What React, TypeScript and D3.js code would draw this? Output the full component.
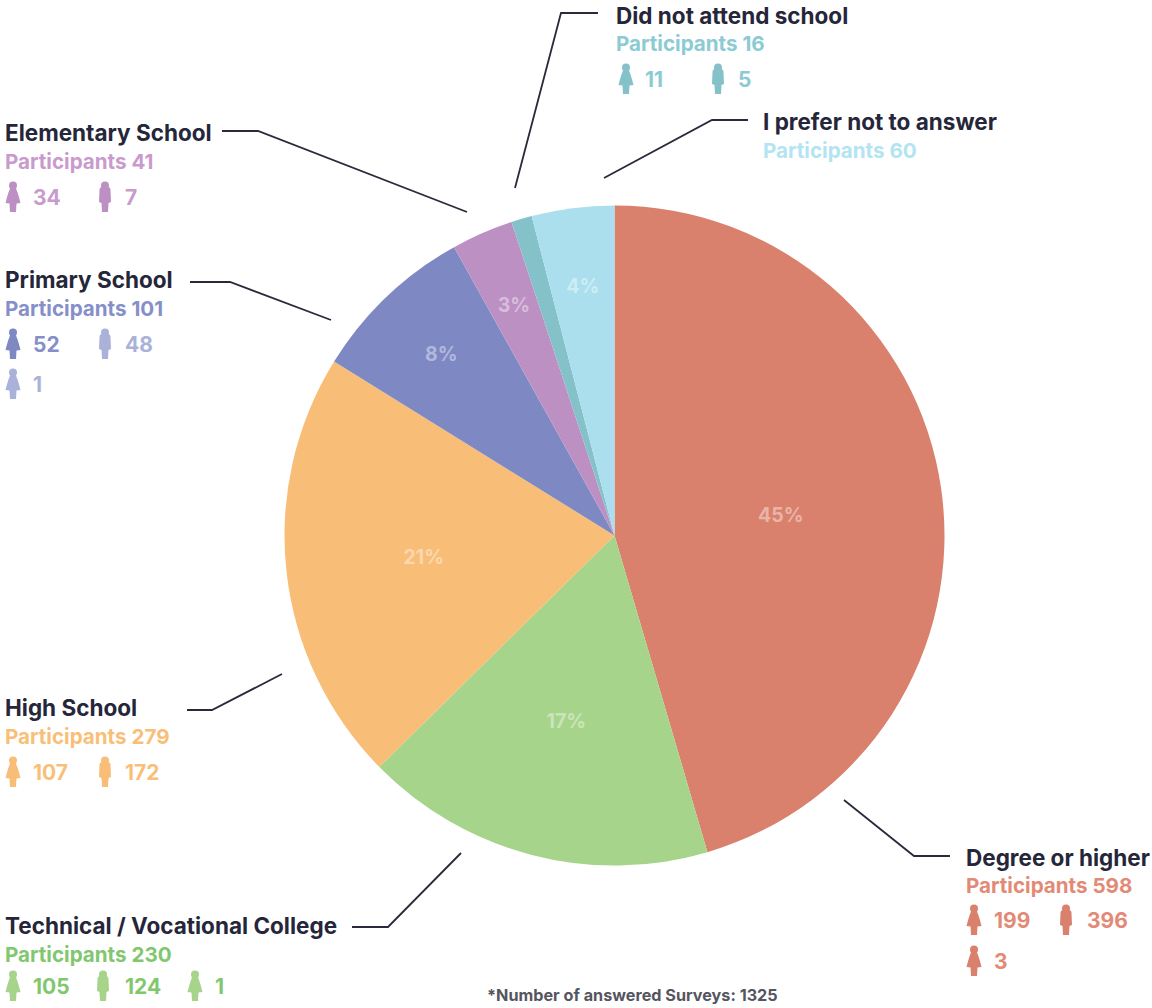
import React from "react";
import * as d3 from "d3";

// Survey responses by highest level of education.
const levels = [
  "Degree or higher",
  "Technical / Vocational College",
  "High School",
  "Primary School",
  "Elementary School",
  "Did not attend school",
  "I prefer not to answer",
];
const participants = [598, 230, 279, 101, 41, 16, 60];
// Rounded shares that set the slice sizes.
const percents = [45, 17, 21, 8, 3, 1, 4];
const sliceColors = ["#d9816d", "#a6d48b", "#f8be78", "#7e89c4", "#bd90c4", "#85c1c9", "#abdfee"];
const textColors = ["#e28a76", "#80c76e", "#f9bf79", "#858fc9", "#c99bcd", "#8ccbd3", "#b2e4f1"];
const surveyTotal = 1325;

// Head counts per figure: [kind, count, faded]
type Figure = [string, number, boolean];
const figures: Figure[][] = [
  [["f", 199, false], ["m", 396, false], ["o", 3, false]],
  [["f", 105, false], ["m", 124, false], ["o", 1, false]],
  [["f", 107, false], ["m", 172, false]],
  [["f", 52, false], ["m", 48, true], ["o", 1, true]],
  [["f", 34, false], ["m", 7, false]],
  [["f", 11, false], ["m", 5, false]],
  [],
];

// Legend block layout for each level.
const blockX = [966, 5, 5, 5, 5, 616, 763];
const titleY = [866, 934, 716, 288, 141, 24, 130];
const partY = [893, 962, 744, 316, 169, 51, 158];
const rowY = [[920, 920, 961], [986, 986, 986], [772, 772], [344, 344, 384], [197, 197], [79, 79], []];
const iconX = [[974, 1066, 974], [13, 103, 195], [13, 105], [13, 105, 13], [13, 105], [626, 718], []];
const numX = [[994, 1087, 994], [33, 125, 215], [33, 125], [33, 125, 33], [33, 125], [645, 738], []];

// Leader lines from each label to its slice.
const leaders: [number, number][][] = [
  [[844, 800], [914, 856], [950, 856]],
  [[352, 927], [388, 927], [461, 853]],
  [[187, 710], [212, 710], [282, 674]],
  [[190, 282], [230, 282], [331, 320]],
  [[222, 131], [258, 131], [467, 212]],
  [[598, 13], [561, 13], [515, 188]],
  [[748, 120], [712, 120], [604, 178]],
];

const FONT = "Inter, Lato, sans-serif";
const cx = 614.5;
const cy = 535.5;
const radius = 330;

function Person({ kind, x, y, color }: { kind: string; x: number; y: number; color: string }) {
  // Drawn around the icon's centre, about 14 wide and 30 tall.
  const body =
    kind === "m"
      ? "M-5.5,-7 Q-5.5,-10 -2.5,-10 L2.5,-10 Q5.5,-10 5.5,-7 L6,5 L3.5,6 L3,15 L-3,15 L-3.5,6 L-6,5 Z"
      : "M-2,-10 Q0,-11 2,-10 Q4,-8 7.5,6 L3.5,6.5 L3,15 L-3,15 L-3.5,6.5 L-7.5,6 Q-4,-8 -2,-10 Z";
  return (
    <g transform={`translate(${x},${y})`} fill={color}>
      <circle cx={0} cy={-11.5} r={4} />
      <path d={body} />
    </g>
  );
}

export default function App() {
  const pie = d3
    .pie<number>()
    .sort(null)
    .value((d) => d);
  const arcs = pie(percents);
  const arc = d3.arc<d3.PieArcDatum<number>>().innerRadius(0).outerRadius(radius);
  const labelPoint = (d: d3.PieArcDatum<number>) => {
    const r = d.value >= 40 ? 168 : d.value >= 10 ? 192 : 251;
    return d3.arc<d3.PieArcDatum<number>>().innerRadius(r).outerRadius(r).centroid(d);
  };
  const leader = d3.line();

  return (
    <svg
      width={1152}
      height={1008}
      viewBox="0 0 1152 1008"
      style={{ position: "absolute", left: 0, top: 0, background: "#fff" }}
      fontFamily={FONT}
      fontWeight={700}
    >
      <g transform={`translate(${cx},${cy})`}>
        {arcs.map((d, i) => (
          <path key={i} d={arc(d) || ""} fill={sliceColors[i]} />
        ))}
        {arcs.map((d, i) => {
          // The 1% sliver is too thin to carry a label.
          if (d.value < 2) return null;
          const [lx, ly] = labelPoint(d);
          return (
            <text
              key={i}
              x={lx}
              y={ly + (d.value >= 40 ? 4 : 0)}
              dy="0.35em"
              textAnchor="middle"
              fontSize={19.5}
              fill="#fff"
              fillOpacity={0.42}
            >
              {`${d.value}%`}
            </text>
          );
        })}
      </g>

      {leaders.map((pts, i) => (
        <path key={i} d={leader(pts) || ""} fill="none" stroke="#2a2a3c" strokeWidth={1.8} />
      ))}

      {levels.map((name, i) => (
        <g key={name}>
          <text x={blockX[i]} y={titleY[i]} fontSize={22.5} fill="#26263a">
            {name}
          </text>
          <text x={blockX[i]} y={partY[i]} fontSize={20.6} fill={textColors[i]}>
            {`Participants ${participants[i]}`}
          </text>
          {figures[i].map(([kind, count, faded], j) => {
            const color = faded ? d3.interpolateRgb(sliceColors[i], "#fff")(0.35) : sliceColors[i];
            return (
              <g key={j}>
                <Person kind={kind} x={iconX[i][j]} y={rowY[i][j]} color={color} />
                <text
                  x={numX[i][j]}
                  y={rowY[i][j]}
                  dy="0.36em"
                  fontSize={21}
                  fill={faded ? color : textColors[i]}
                >
                  {count}
                </text>
              </g>
            );
          })}
        </g>
      ))}

      <text x={487} y={1001} fontSize={16.2} fill="#55555f">
        *Number of answered Surveys: {surveyTotal}
      </text>
    </svg>
  );
}
